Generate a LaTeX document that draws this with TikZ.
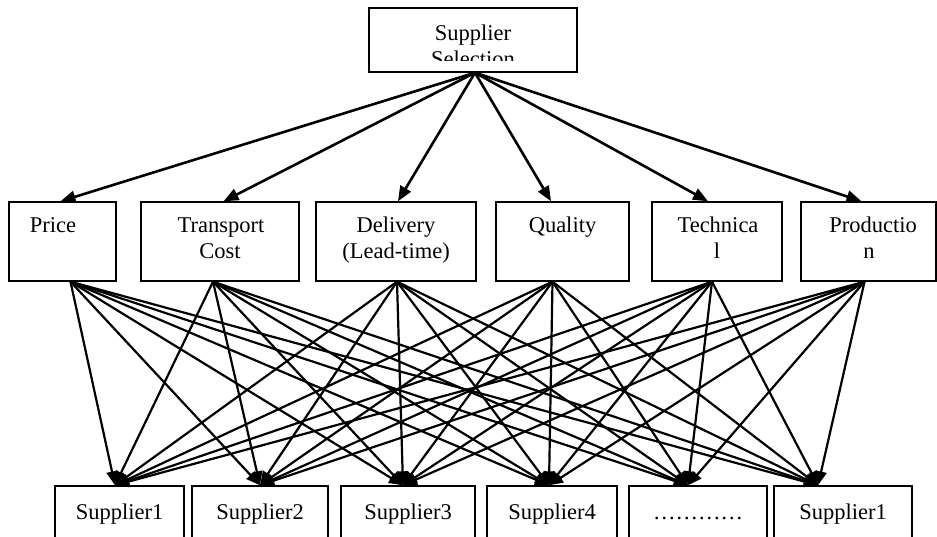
\documentclass[tikz,border=0pt]{standalone}
\usepackage{fontspec}
\setmainfont{Liberation Serif}
\usetikzlibrary{arrows.meta}
\begin{document}
\begin{tikzpicture}[x=1pt,y=-1pt,
  box/.style={draw, line width=1.4pt, fill=white, inner sep=0pt, rectangle},
  txt/.style={inner sep=0pt, anchor=base, font=\fontsize{22.5}{26}\selectfont},
  toparr/.style={line width=2.6pt, -{Triangle[length=15pt,width=12pt]}},
  lowarr/.style={line width=2.2pt, -{Triangle[length=14pt,width=11pt]}}]
\useasboundingbox (0,0) rectangle (937,537);
% top box
\node[box, minimum width=208pt, minimum height=64pt] (top) at (473,40) {};
% middle row
\node[box, minimum width=107pt, minimum height=79pt] (price) at (62.5,241.5) {};
\node[box, minimum width=158pt, minimum height=79pt] (transport) at (220,241.5) {};
\node[box, minimum width=160pt, minimum height=79pt] (delivery) at (396,241.5) {};
\node[box, minimum width=133pt, minimum height=79pt] (quality) at (562.5,241.5) {};
\node[box, minimum width=130pt, minimum height=79pt] (technical) at (717,241.5) {};
\node[box, minimum width=135pt, minimum height=79pt] (production) at (868.5,241.5) {};
% bottom row
\node[box, minimum width=129pt, minimum height=84pt] (s1) at (119.5,528) {};
\node[box, minimum width=136pt, minimum height=84pt] (s2) at (260,528) {};
\node[box, minimum width=134pt, minimum height=84pt] (s3) at (408,528) {};
\node[box, minimum width=130pt, minimum height=84pt] (s4) at (552,528) {};
\node[box, minimum width=138pt, minimum height=84pt] (s5) at (698,528) {};
\node[box, minimum width=138pt, minimum height=84pt] (s6) at (843,528) {};
% texts
\begin{scope}
  \clip (369,8) rectangle (577,61);
  \node[txt] at (473,41) {Supplier};
  \node[txt] at (473,67) {Selection};
\end{scope}
\node[txt] at (53,233) {Price};
\node[txt] at (221,233) {Transport};
\node[txt] at (220,259) {Cost};
\node[txt] at (396,233) {Delivery};
\node[txt] at (396,259) {(Lead-time)};
\node[txt] at (562.5,233) {Quality};
\node[txt] at (718,233) {Technica};
\node[txt] at (717,259) {l};
\node[txt] at (873,233) {Productio};
\node[txt] at (869,259) {n};
\node[txt] at (119.5,519) {Supplier1};
\node[txt] at (260,519) {Supplier2};
\node[txt] at (408,519) {Supplier3};
\node[txt] at (552,519) {Supplier4};
\node[txt] at (698,519) {…………};
\node[txt] at (843,519) {Supplier1};
% top arrows
\foreach \m/\tx in {price/-2, transport/3.5, delivery/2, quality/-11.5, technical/-9, production/-7}
  \draw[toparr] ([xshift=2pt]top.south) -- ([xshift=\tx pt]\m.north);
% lower arrows
\foreach \m/\mx in {price/8, transport/-7, delivery/1, quality/-10, technical/-5, production/-4}
  \foreach \s/\sx in {s1/-4.5, s2/0, s3/-5, s4/-3, s5/-10, s6/-25}
    \draw[lowarr] ([xshift=\mx pt]\m.south) -- ([xshift=\sx pt]\s.north);
\end{tikzpicture}
\end{document}
